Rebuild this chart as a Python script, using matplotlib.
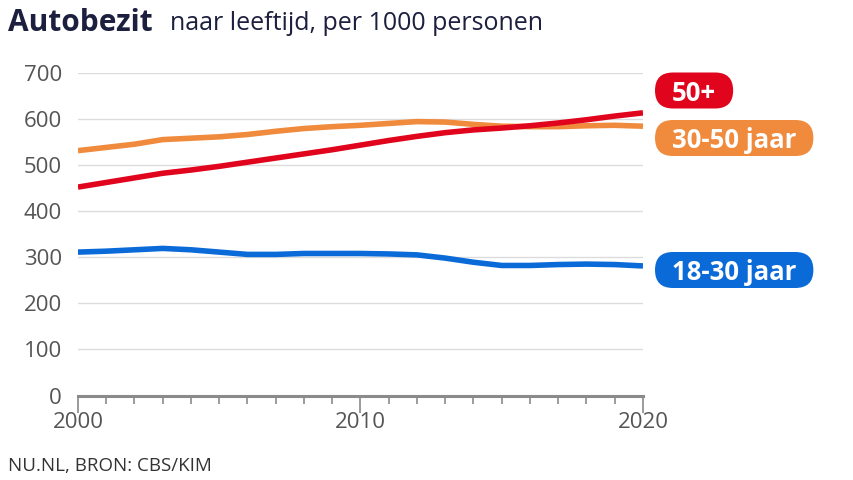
import matplotlib
matplotlib.use("Agg")
import matplotlib.pyplot as plt
from matplotlib.ticker import MultipleLocator
from matplotlib.patches import FancyBboxPatch

years = list(range(2000, 2021))
age_50plus = [452, 462, 472, 482, 489, 497, 506, 515, 524, 533, 543, 553, 562, 570, 576, 580, 585, 591, 598, 606, 613]
age_30_50 = [531, 538, 545, 555, 558, 561, 566, 573, 579, 583, 586, 590, 594, 593, 588, 584, 583, 583, 585, 586, 584]
age_18_30 = [311, 313, 316, 319, 316, 311, 306, 306, 308, 308, 308, 307, 305, 298, 289, 282, 282, 284, 285, 284, 281]
series_labels = ["50+", "30-50 jaar", "18-30 jaar"]
yticks = [0, 100, 200, 300, 400, 500, 600, 700]
xticks = [2000, 2010, 2020]

c_red = "#e0051c"
c_orange = "#f08a3c"
c_blue = "#0a6ad8"

plt.rcParams['font.family'] = ['Open Sans', 'DejaVu Sans']

W, H = 854, 480
fig = plt.figure(figsize=(W / 100, H / 100), dpi=100)
ax = fig.add_axes([0.0913, 0.176, 0.6616, 0.6725])

for vals, col in [(age_18_30, c_blue), (age_30_50, c_orange), (age_50plus, c_red)]:
    ax.plot(years, vals, color=col, lw=4.0, solid_capstyle='butt', zorder=3)

ax.set_xlim(2000, 2020)
ax.set_ylim(0, 700)
ax.set_yticks(yticks)
ax.set_xticks(xticks)
ax.xaxis.set_minor_locator(MultipleLocator(1))
ax.grid(axis='y', color='#dcdcdc', lw=1)
ax.set_axisbelow(True)
for s in ['top', 'right', 'left']:
    ax.spines[s].set_visible(False)
ax.spines['bottom'].set_color('#8a8a8a')
ax.spines['bottom'].set_linewidth(2.2)
ax.tick_params(axis='y', length=0, labelsize=16, labelcolor='#555555', pad=11.5)
ax.tick_params(axis='x', which='major', length=12, width=1.2, color='#8a8a8a',
               labelsize=16, labelcolor='#555555', pad=0)
ax.tick_params(axis='x', which='minor', length=6, width=1.2, color='#8a8a8a')
for lbl in ax.get_yticklabels():
    lbl.set_verticalalignment('center_baseline')

# Title
fig.text(0.009, 0.952, "Autobezit", fontsize=21.5, fontweight='bold', color='#1c1f3e', va='center')
fig.text(0.199, 0.952, "naar leeftijd, per 1000 personen", fontsize=18, color='#1c1f3e', va='center')

# Labels as pills
fig.canvas.draw()
renderer = fig.canvas.get_renderer()

def pill(ypx, text, col):
    t = fig.text(672 / W, 1 - ypx / H, text, fontsize=18.5, fontweight='bold', color='white',
                 va='center_baseline', ha='left', zorder=5)
    bb = t.get_window_extent(renderer=renderer)
    padx, h = 17, 36
    yc = H - ypx
    patch = FancyBboxPatch((bb.x0 - padx, yc - h / 2), bb.width + 2 * padx, h,
                           boxstyle='round,pad=0,rounding_size=18', fc=col, ec='none',
                           transform=None, zorder=4)
    fig.add_artist(patch)

pill(90.5, series_labels[0], c_red)
pill(138, series_labels[1], c_orange)
pill(270, series_labels[2], c_blue)

fig.text(0.009, 1 - 466 / 480, "NU.NL, BRON: CBS/KIM", fontsize=13.5, color='#333333', va='center')

fig.savefig("out.png", dpi=100)
